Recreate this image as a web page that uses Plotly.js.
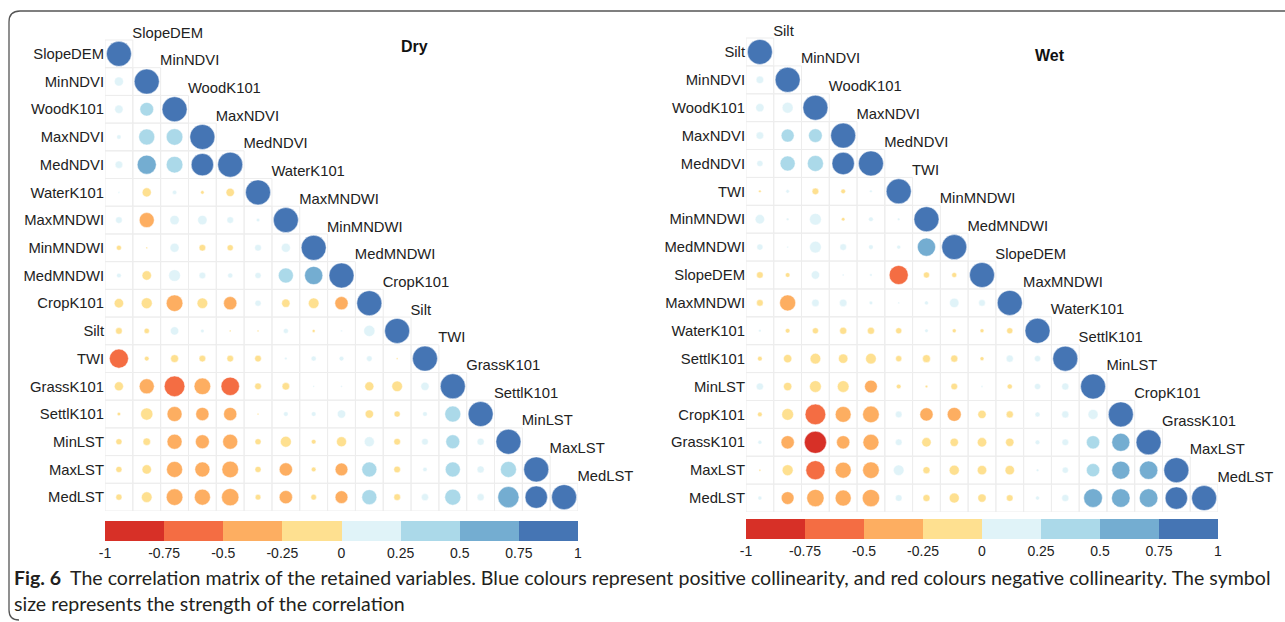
<!DOCTYPE html>
<html><head><meta charset="utf-8">
<script src="https://cdn.plot.ly/plotly-3.0.1.min.js"></script>
<style>html,body{margin:0;padding:0;background:#fff}</style></head>
<body><div id="chart" style="width:1285px;height:622px"></div>
<script>
// ---------- DATA ----------
const dryVars = ["SlopeDEM","MinNDVI","WoodK101","MaxNDVI","MedNDVI","WaterK101","MaxMNDWI","MinMNDWI","MedMNDWI","CropK101","Silt","TWI","GrassK101","SettlK101","MinLST","MaxLST","MedLST"];
// lower triangle: row i holds correlations with columns 0..i-1 (diagonal = 1)
const dryCorr = [
  [],
  [0.13],
  [0.11, 0.30],
  [0.03, 0.41, 0.44],
  [0.09, 0.58, 0.44, 0.80],
  [0.005, -0.13, 0.03, -0.02, -0.11],
  [0.07, -0.36, 0.14, 0.14, 0.07, 0.02],
  [-0.04, -0.005, 0.13, -0.07, -0.06, 0.07, 0.13],
  [0.035, -0.14, 0.22, 0.07, 0.04, 0.06, 0.36, 0.53],
  [-0.14, -0.19, -0.44, -0.18, -0.28, 0.06, -0.11, -0.18, -0.28],
  [-0.07, -0.045, 0.11, 0.02, -0.005, -0.005, 0.04, -0.015, 0.005, 0.20],
  [-0.58, -0.035, -0.10, -0.07, -0.07, -0.07, 0.01, 0.04, 0.035, 0.05, -0.005],
  [-0.13, -0.36, -0.68, -0.44, -0.54, -0.07, -0.09, 0.005, 0.005, -0.13, -0.18, 0.11],
  [-0.02, -0.24, -0.36, -0.28, -0.28, -0.005, 0.035, 0.035, 0.11, -0.11, -0.06, 0.035, 0.41],
  [-0.06, -0.09, -0.36, -0.31, -0.36, -0.06, -0.19, -0.035, -0.16, 0.16, -0.07, 0.07, 0.31, 0.08],
  [-0.06, -0.14, -0.41, -0.36, -0.44, -0.06, -0.28, -0.035, -0.26, 0.36, -0.07, 0.03, 0.36, 0.08, 0.41],
  [-0.06, -0.18, -0.44, -0.41, -0.48, -0.05, -0.28, -0.05, -0.26, 0.36, -0.07, 0.08, 0.41, 0.08, 0.72, 0.80]
];
const wetVars = ["Silt","MinNDVI","WoodK101","MaxNDVI","MedNDVI","TWI","MinMNDWI","MedMNDWI","SlopeDEM","MaxMNDWI","WaterK101","SettlK101","MinLST","CropK101","GrassK101","MaxLST","MedLST"];
const wetCorr = [
  [],
  [0.09],
  [0.11, 0.19],
  [0.09, 0.27, 0.30],
  [0.06, 0.36, 0.41, 0.80],
  [-0.01, 0.02, -0.07, -0.035, 0.01],
  [0.14, 0.01, 0.22, -0.02, 0.035, 0.01],
  [0.06, 0.005, 0.22, 0.07, 0.035, 0.025, 0.53],
  [-0.07, -0.035, 0.11, 0.006, 0.01, -0.58, -0.06, -0.04],
  [-0.07, -0.41, 0.09, 0.09, 0.02, 0.006, 0.025, 0.14, 0.07],
  [0.01, -0.035, -0.06, -0.08, -0.08, -0.06, 0.02, -0.025, -0.025, -0.06],
  [-0.035, -0.11, -0.18, -0.14, -0.18, -0.06, -0.10, -0.08, -0.025, 0.08, 0.06],
  [0.08, -0.11, -0.22, -0.22, -0.26, -0.035, -0.01, -0.07, 0.006, -0.04, 0.06, 0.08],
  [-0.035, -0.22, -0.68, -0.40, -0.44, 0.07, -0.28, -0.31, -0.11, -0.08, 0.04, 0.08, 0.16],
  [0.025, -0.28, -0.78, -0.28, -0.41, 0.07, -0.14, -0.11, -0.14, -0.11, 0.035, 0.07, 0.28, 0.52],
  [-0.006, -0.19, -0.58, -0.41, -0.44, 0.18, -0.08, -0.16, -0.14, -0.14, 0.01, 0.06, 0.28, 0.52, 0.54],
  [0.025, -0.26, -0.48, -0.41, -0.48, 0.07, -0.08, -0.16, -0.11, -0.07, 0.025, 0.08, 0.56, 0.55, 0.55, 0.80]
];
const tickVals = [-1, -0.75, -0.5, -0.25, 0, 0.25, 0.5, 0.75, 1];
const tickText = ["-1", "-0.75", "-0.5", "-0.25", "0", "0.25", "0.5", "0.75", "1"];
const binColors = ["#D73027","#F46D43","#FDAE61","#FEE090","#E0F3F8","#ABD9E9","#74ADD1","#4575B4"];
const panelTitles = ["Dry", "Wet"];
const captionLabel = "Fig. 6";
const captionLine1 = "The correlation matrix of the retained variables. Blue colours represent positive collinearity, and red colours negative collinearity. The symbol";
const captionLine2 = "size represents the strength of the correlation";

// ---------- LAYOUT HELPERS ----------
const W = 1285, H = 622;
const px = v => v / W;
const py = v => 1 - v / H;
const colorscale = [];
binColors.forEach((c, k) => { colorscale.push([k / 8, c]); colorscale.push([(k + 1) / 8, c]); });

const FONT = "Liberation Sans, Arial, sans-serif";
const LBL = 14.8;
const panels = [
  {vars: dryVars, corr: dryCorr, xd: [105, 578], yd: [40, 511], cb: {x: 105, y: 521, len: 473}, title: {x: 414, y: 46}},
  {vars: wetVars, corr: wetCorr, xd: [746, 1218], yd: [38, 512], cb: {x: 746, y: 519, len: 472}, title: {x: 1050, y: 55}}
];

const traces = [], shapes = [], annotations = [];
const layout = {
  width: W, height: H, margin: {l: 0, r: 0, t: 0, b: 0},
  paper_bgcolor: "#fff", plot_bgcolor: "rgba(0,0,0,0)",
  showlegend: false, font: {family: FONT, color: "#222"},
  hovermode: false
};

panels.forEach((p, k) => {
  const n = p.vars.length;
  const cellH = (p.yd[1] - p.yd[0]) / n;
  const xa = k === 0 ? "x" : "x2", ya = k === 0 ? "y" : "y2";
  const xKey = k === 0 ? "xaxis" : "xaxis2", yKey = k === 0 ? "yaxis" : "yaxis2";
  layout[xKey] = {domain: [px(p.xd[0]), px(p.xd[1])], range: [-0.5, n - 0.5], showgrid: false, zeroline: false,
                  showticklabels: false, showline: false, fixedrange: true, anchor: ya};
  // one extra (empty) row on top so the first diagonal label stays inside the axis
  layout[yKey] = {domain: [py(p.yd[1]), py(p.yd[0] - cellH)], range: [n - 0.5, -1.5], showgrid: false, zeroline: false,
                  showline: false, ticks: "", tickvals: p.vars.map((_, i) => i), ticktext: p.vars,
                  tickfont: {size: LBL, family: FONT, color: "#222"}, fixedrange: true, anchor: xa, ticklabelstandoff: 0};
  const xs = [], ys = [], cs = [], ss = [];
  for (let i = 0; i < n; i++) {
    for (let j = 0; j <= i; j++) {
      const r = i === j ? 1 : p.corr[i][j];
      xs.push(j); ys.push(i); cs.push(r); ss.push(25 * Math.sqrt(Math.abs(r)));
      shapes.push({type: "rect", xref: xa, yref: ya, x0: j - 0.5, x1: j + 0.5, y0: i - 0.5, y1: i + 0.5,
                   line: {color: "#EDEDED", width: 1}, fillcolor: "rgba(0,0,0,0)", layer: "below"});
    }
  }
  traces.push({
    type: "scatter", mode: "markers", xaxis: xa, yaxis: ya, x: xs, y: ys, hoverinfo: "skip", cliponaxis: false,
    marker: {size: ss, color: cs, opacity: 1, cmin: -1, cmax: 1, colorscale: colorscale,
             line: {width: 0.6, color: "rgba(255,255,255,0.8)"},
             showscale: true,
             colorbar: {orientation: "h", x: px(p.cb.x), xanchor: "left", y: py(p.cb.y), yanchor: "top",
                        len: p.cb.len, lenmode: "pixels", thickness: 20, thicknessmode: "pixels",
                        xpad: 0, ypad: 0, outlinewidth: 0, ticks: "", tickvals: tickVals, ticktext: tickText,
                        tickfont: {size: 14, family: FONT, color: "#222"}}}
  });
  // diagonal variable labels (above-right of each diagonal circle)
  traces.push({
    type: "scatter", mode: "text", xaxis: xa, yaxis: ya, cliponaxis: false, hoverinfo: "skip",
    x: p.vars.map((_, i) => i + 0.48), y: p.vars.map((_, i) => i - 0.72), text: p.vars,
    textposition: "middle right", textfont: {size: LBL, family: FONT, color: "#222"}
  });
  annotations.push({xref: "paper", yref: "paper", x: px(p.title.x), y: py(p.title.y), text: "<b>" + panelTitles[k] + "</b>",
                    showarrow: false, xanchor: "center", yanchor: "middle", font: {size: 16, family: FONT, color: "#111"}});
});

// caption: font size fitted so that line 1 ends at x=1272 like the reference
const CAPFAM = "Lato";
const ctx = document.createElement("canvas").getContext("2d");
const measure = (t, size, bold) => { ctx.font = (bold ? "bold " : "") + size + "px " + CAPFAM; return ctx.measureText(t).width; };
const left = 13, right = 1272, labelSize = 19.5, labelGap = 9;
const labelW = measure(captionLabel, labelSize, true);
const textStart = left + labelW + labelGap;
let capSize = 19 * (right - textStart) / measure(captionLine1, 19, false);
if (!isFinite(capSize) || capSize < 12 || capSize > 24) capSize = 19;
const CAP = {size: capSize, family: CAPFAM + ", sans-serif", color: "#231F20"};
annotations.push({xref: "paper", yref: "paper", x: px(left), y: py(577), xanchor: "left", yanchor: "middle", showarrow: false,
  text: "<b>" + captionLabel + "</b>", font: {size: labelSize, family: CAPFAM + ", sans-serif", color: "#231F20"}, borderpad: 0});
annotations.push({xref: "paper", yref: "paper", x: px(textStart), y: py(577), xanchor: "left", yanchor: "middle", showarrow: false,
  text: captionLine1, font: CAP, borderpad: 0});
annotations.push({xref: "paper", yref: "paper", x: px(left), y: py(603), xanchor: "left", yanchor: "middle", showarrow: false,
  text: captionLine2, font: CAP, borderpad: 0});

// frame
shapes.push({type: "path", xref: "paper", yref: "paper",
  path: `M ${px(1285)},${py(11)} L ${px(20)},${py(11)} Q ${px(9)},${py(11)} ${px(9)},${py(22)} L ${px(9)},${py(610)} Q ${px(9)},${py(620)} ${px(19)},${py(620)}`,
  line: {color: "#555", width: 1.3}});

layout.shapes = shapes;
layout.annotations = annotations;
Plotly.newPlot("chart", traces, layout, {displayModeBar: false, staticPlot: true});
</script></body></html>
